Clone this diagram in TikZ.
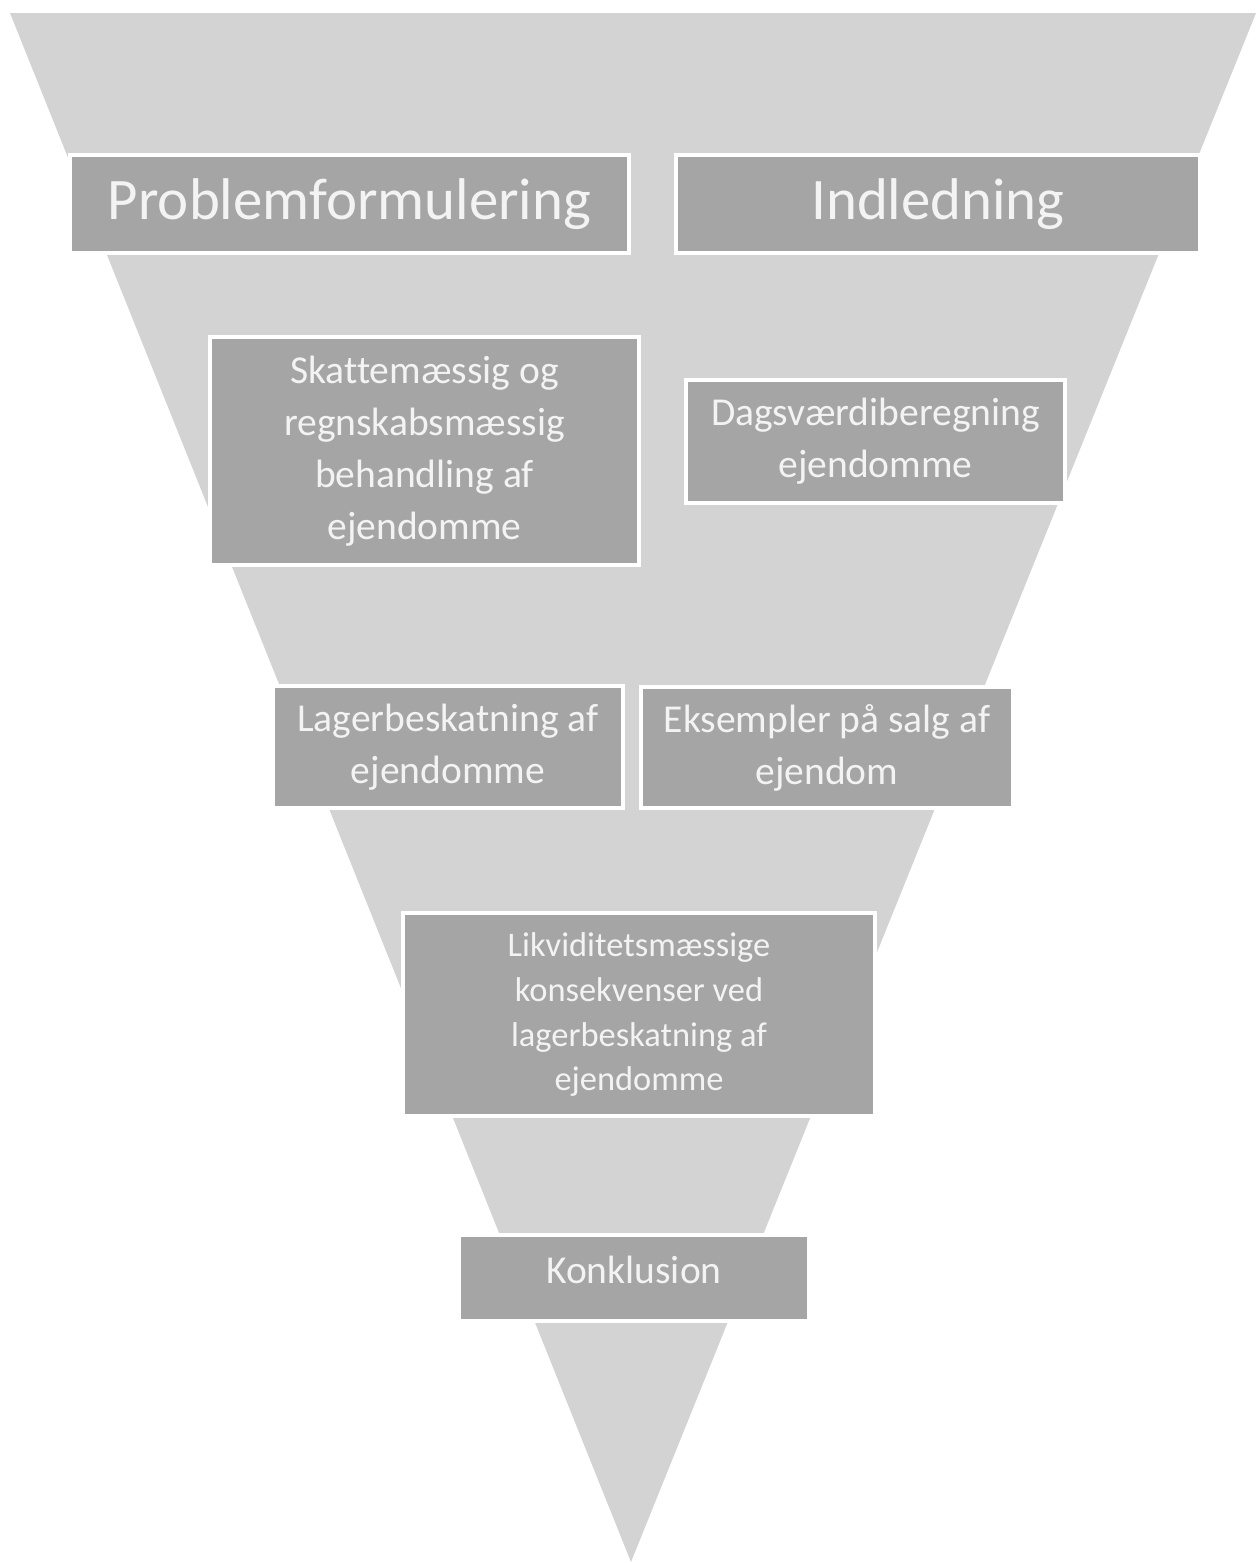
\documentclass[tikz,border=0pt]{standalone}
\usepackage{fontspec}
\setmainfont[Ligatures=CommonOff]{Carlito}
\usetikzlibrary{positioning}
\definecolor{tragt}{RGB}{211,211,211}
\definecolor{boksgraa}{RGB}{165,165,165}
\definecolor{tekst}{RGB}{243,243,243}

\begin{document}
\begin{tikzpicture}[x=0.02cm,y=-0.02cm,
  boks/.style={draw=white,line width=0.08cm,fill=boksgraa,text=tekst,align=center,inner sep=0pt},
  stor/.style={font=\fontsize{33.5}{40}\selectfont},
  mellem/.style={font=\fontsize{22.5}{29.6}\selectfont},
  lille/.style={font=\fontsize{19.6}{25.6}\selectfont}]
\useasboundingbox (0,0) rectangle (1256,1563);
% tragten
\fill[tragt] (10,13) -- (1256,13) -- (631,1562) -- cycle;
% niveau 1
\node[boks,stor,minimum width=11.18cm,minimum height=1.96cm] (prob) at (349.5,204) {Problemformulering};
\node[boks,stor,minimum width=10.48cm,minimum height=1.96cm] (indl) at (938,204) {Indledning};
% niveau 2
\node[boks,mellem,minimum width=8.58cm,minimum height=4.56cm] (skat) at (424.5,451) {Skattemæssig og\\regnskabsmæssig\\behandling af\\ejendomme};
\node[boks,mellem,minimum width=7.58cm,minimum height=2.46cm] (dags) at (875.5,441.5) {Dagsværdiberegning\\ejendomme};
% niveau 3
\node[boks,mellem,minimum width=7.00cm,minimum height=2.44cm] (lager) at (448,747) {Lagerbeskatning af\\ejendomme};
\node[boks,mellem,minimum width=7.44cm,minimum height=2.42cm] (eks) at (827,747.5) {Eksempler på salg af\\ejendom};
% niveau 4
\node[boks,lille,minimum width=9.44cm,minimum height=4.06cm] (likv) at (639,1014.5) {Likviditetsmæssige\\konsekvenser ved\\lagerbeskatning af\\ejendomme};
% niveau 5
\node[boks,mellem,minimum width=7.02cm,minimum height=1.72cm,text depth=0.32cm] (konk) at (634,1278) {Konklusion};
\end{tikzpicture}
\end{document}
